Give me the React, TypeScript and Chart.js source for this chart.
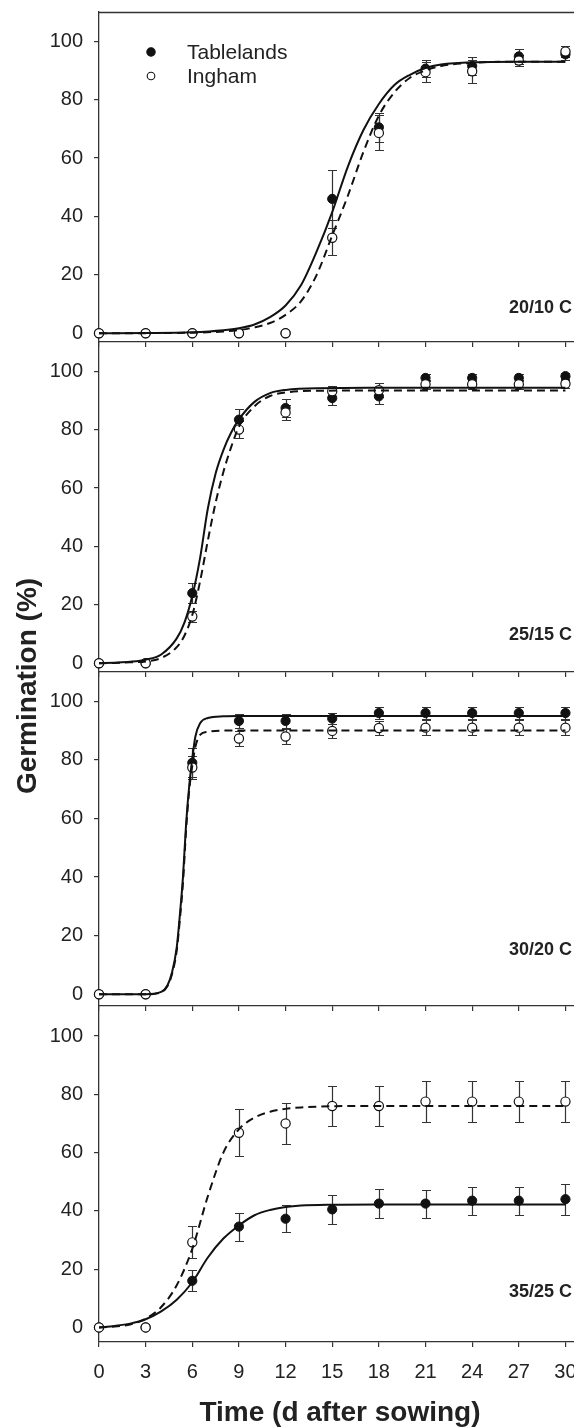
import React, { useEffect, useRef } from "react";
import { Chart, registerables } from "chart.js";

Chart.register(...registerables);

const FONT = "'Liberation Sans', Arial, Helvetica, sans-serif";
const TEXT = "#222222";
const AXIS = "#333333";
const INK = "#111111";

// ---------- data ----------
const days = [0, 3, 6, 9, 12, 15, 18, 21, 24, 27, 30];
const xTickValues = [0, 3, 6, 9, 12, 15, 18, 21, 24, 27, 30];
const yTickValues = [0, 20, 40, 60, 80, 100];
const seriesNames = ["Tablelands", "Ingham"];
const xTitle = "Time (d after sowing)";
const yTitle = "Germination (%)";

// 20/10 C
const p1Label = "20/10 C";
const p1Tablelands = [0, 0, 0, 0, 0, 46, 70.5, 90.6, 91.5, 94.8, 95.5];
const p1TablelandsErr = [0, 0, 0, 0, 0, 10, 5, 3, 3, 2.5, 2];
const p1Ingham = [0, 0, 0, 0, 0, 32.7, 68.6, 89.4, 89.7, 93.4, 96.5];
const p1InghamErr = [0, 0, 0, 0, 0, 6, 6, 3.5, 4, 2, 2];
const p1FitDays = [0, 3, 6, 8, 9, 10, 11, 12, 13, 14, 15, 16, 17, 18, 19, 20, 21, 22, 24, 27, 30];
const p1FitTablelands = [0, 0.05, 0.3, 1, 1.7, 3, 5.5, 9.5, 16.5, 28, 41.5, 57, 69.5, 78.5, 85, 88.5, 90.8, 92, 92.8, 93, 93];
const p1FitIngham = [0, 0.03, 0.2, 0.6, 1.1, 2, 3.5, 6.3, 11, 20, 33.5, 47, 62, 74.5, 82.5, 87.5, 90, 91.5, 92.6, 93, 93];

// 25/15 C
const p2Label = "25/15 C";
const p2Tablelands = [0, 0, 24, 83.4, 87.4, 90.8, 91.4, 97.7, 97.7, 97.7, 98.3];
const p2TablelandsErr = [0, 0, 3.5, 3.8, 3, 2.5, 2.5, 1.2, 1.2, 1.2, 1.2];
const p2Ingham = [0, 0, 16, 80, 85.9, 93.1, 93.5, 95.5, 95.5, 95.5, 95.7];
const p2InghamErr = [0, 0, 2, 3, 2.5, 2, 2.5, 1.5, 1.5, 1.5, 1.5];
const p2FitDays = [0, 1, 2, 3, 4, 5, 5.5, 6, 6.5, 7, 7.5, 8, 8.5, 9, 10, 11, 12, 14, 18, 30];
const p2FitTablelands = [0, 0.2, 0.5, 1.2, 3, 8.5, 14, 23, 36, 53, 65, 73, 79, 83.5, 89.5, 92.5, 93.6, 94.2, 94.3, 94.3];
const p2FitIngham = [0, 0.1, 0.3, 0.6, 1.8, 5.5, 9.5, 16.5, 28, 42, 55, 65.5, 74, 81, 88, 91.5, 92.7, 93.3, 93.4, 93.4];

// 30/20 C
const p3Label = "30/20 C";
const p3Tablelands = [0, 0, 79, 93.3, 93.3, 94.1, 96, 96, 96, 96, 96];
const p3TablelandsErr = [0, 0, 5, 2.3, 2.3, 2, 2, 2, 2, 2, 2];
const p3Ingham = [0, 0, 77.4, 87.3, 88, 89.9, 90.9, 91, 91, 91, 91];
const p3InghamErr = [0, 0, 4, 2.5, 2.5, 2.5, 2.5, 2.5, 2.5, 2.5, 2.5];
const p3FitDays = [0, 3, 4, 4.4, 4.7, 5, 5.2, 5.4, 5.6, 5.8, 6, 6.2, 6.5, 7, 8, 9, 12, 30];
const p3FitTablelands = [0, 0, 0.8, 3, 7.5, 16, 27, 40, 58, 71, 80.5, 88, 92.5, 94.3, 94.9, 95, 95, 95];
const p3FitIngham = [0, 0, 0.7, 2.8, 7, 15, 25.5, 38, 56, 69.5, 78, 84.5, 88.5, 89.6, 90, 90, 90, 90];

// 35/25 C
const p4Label = "35/25 C";
const p4Tablelands = [0, 0, 16, 34.6, 37.3, 40.5, 42.5, 42.5, 43.5, 43.5, 44];
const p4TablelandsErr = [0, 0, 3.6, 4.8, 4.7, 5, 5, 4.8, 4.8, 4.8, 5.3];
const p4Ingham = [0, 0, 29.2, 66.8, 70, 76, 76, 77.5, 77.5, 77.5, 77.5];
const p4InghamErr = [0, 0, 5.5, 8, 7, 6.8, 6.8, 7, 7, 7, 7];
const p4FitDays = [0, 1, 2, 3, 4, 5, 6, 7, 8, 9, 10, 11, 12, 13, 15, 18, 30];
const p4FitTablelands = [0, 0.5, 1.3, 2.8, 5.5, 9.5, 15.5, 24, 30.5, 35, 38.5, 40.3, 41.3, 41.8, 42.1, 42.2, 42.2];
const p4FitIngham = [0, 0.3, 1, 3, 7, 14.5, 27, 45, 60, 68, 72, 74, 75, 75.5, 75.9, 76, 76];

// ---------- layout (page pixels / axis ranges) ----------
const CANVAS_W = 600;
const PLOT_LEFT = 99;
const PLOT_RIGHT = 581;
const PAD_TOP = 10;
const X_MIN = 0;
const X_MAX = 31;

const panels = [
  { label: p1Label, t: p1Tablelands, te: p1TablelandsErr, i: p1Ingham, ie: p1InghamErr, fx: p1FitDays, ft: p1FitTablelands, fi: p1FitIngham,
    top: 12, height: 330, yMin: -3, yMax: 110, labelAt: 8.7, below: 8, first: true, last: false },
  { label: p2Label, t: p2Tablelands, te: p2TablelandsErr, i: p2Ingham, ie: p2InghamErr, fx: p2FitDays, ft: p2FitTablelands, fi: p2FitIngham,
    top: 342, height: 330, yMin: -3, yMax: 110, labelAt: 9.7, below: 8, first: false, last: false },
  { label: p3Label, t: p3Tablelands, te: p3TablelandsErr, i: p3Ingham, ie: p3InghamErr, fx: p3FitDays, ft: p3FitTablelands, fi: p3FitIngham,
    top: 672, height: 334, yMin: -4, yMax: 110, labelAt: 15.2, below: 8, first: false, last: false },
  { label: p4Label, t: p4Tablelands, te: p4TablelandsErr, i: p4Ingham, ie: p4InghamErr, fx: p4FitDays, ft: p4FitTablelands, fi: p4FitIngham,
    top: 1006, height: 336, yMin: -5, yMax: 110.3, labelAt: 12.2, below: 50, first: false, last: true },
];

const toXY = (xs: number[], ys: number[]) => xs.map((x, k) => ({ x, y: ys[k] }));

const errorBarPlugin = {
  id: "errorBars",
  beforeDatasetsDraw(chart: any) {
    const { ctx } = chart;
    const xs = chart.scales.x;
    const ys = chart.scales.y;
    ctx.save();
    ctx.strokeStyle = AXIS;
    ctx.lineWidth = 1.2;
    chart.data.datasets.forEach((ds: any) => {
      const errs = ds.errors;
      if (!errs) return;
      ds.data.forEach((p: any, j: number) => {
        const e = errs[j];
        if (!e) return;
        const px = Math.round(xs.getPixelForValue(p.x)) + 0.5;
        const y1 = Math.round(ys.getPixelForValue(p.y + e)) + 0.5;
        const y2 = Math.round(ys.getPixelForValue(p.y - e)) + 0.5;
        ctx.beginPath();
        ctx.moveTo(px, y1);
        ctx.lineTo(px, y2);
        ctx.moveTo(px - 4.5, y1);
        ctx.lineTo(px + 4.5, y1);
        ctx.moveTo(px - 4.5, y2);
        ctx.lineTo(px + 4.5, y2);
        ctx.stroke();
      });
    });
    ctx.restore();
  },
};

function makeDecorPlugin(panel: any) {
  return {
    id: "decor",
    afterDraw(chart: any) {
      const { ctx, chartArea } = chart;
      const ys = chart.scales.y;
      ctx.save();
      // panel label
      ctx.fillStyle = TEXT;
      ctx.font = `bold 18px ${FONT}`;
      ctx.textAlign = "right";
      ctx.textBaseline = "middle";
      ctx.fillText(panel.label, 572, ys.getPixelForValue(panel.labelAt));
      if (panel.first) {
        // top frame line
        ctx.strokeStyle = AXIS;
        ctx.lineWidth = 1.3;
        ctx.beginPath();
        ctx.moveTo(chartArea.left, chartArea.top + 0.5);
        ctx.lineTo(CANVAS_W, chartArea.top + 0.5);
        ctx.stroke();
        // legend
        const mx = 151;
        const rows = [chartArea.top + 40, chartArea.top + 64];
        ctx.font = `21px ${FONT}`;
        ctx.textAlign = "left";
        ctx.textBaseline = "middle";
        rows.forEach((ry, k) => {
          ctx.beginPath();
          ctx.arc(mx, ry, k === 0 ? 4.2 : 3.8, 0, Math.PI * 2);
          ctx.fillStyle = k === 0 ? INK : "#ffffff";
          ctx.fill();
          ctx.strokeStyle = INK;
          ctx.lineWidth = 1.1;
          ctx.stroke();
          ctx.fillStyle = TEXT;
          ctx.fillText(seriesNames[k], 187, ry + 1);
        });
      }
      ctx.restore();
    },
  };
}

function Panel({ panel }: { panel: any }) {
  const ref = useRef<HTMLCanvasElement | null>(null);
  const H = PAD_TOP + panel.height + panel.below;
  useEffect(() => {
    if (!ref.current) return;
    const chart = new Chart(ref.current, {
      type: "scatter",
      data: {
        datasets: [
          {
            label: seriesNames[0] + " fit",
            data: toXY(panel.fx, panel.ft),
            showLine: true,
            pointRadius: 0,
            borderColor: INK,
            borderWidth: 2,
            cubicInterpolationMode: "monotone",
            order: 0,
            clip: false,
          },
          {
            label: seriesNames[1] + " fit",
            data: toXY(panel.fx, panel.fi),
            showLine: true,
            pointRadius: 0,
            borderColor: INK,
            borderWidth: 2,
            borderDash: [8, 5],
            cubicInterpolationMode: "monotone",
            order: 0,
            clip: false,
          },
          {
            label: seriesNames[1],
            data: toXY(days, panel.i),
            errors: panel.ie,
            showLine: false,
            pointRadius: 4.6,
            pointBackgroundColor: "#ffffff",
            pointBorderColor: INK,
            pointBorderWidth: 1.2,
            order: 1,
            clip: false,
          },
          {
            label: seriesNames[0],
            data: toXY(days, panel.t),
            errors: panel.te,
            showLine: false,
            pointRadius: 4.6,
            pointBackgroundColor: INK,
            pointBorderColor: INK,
            pointBorderWidth: 1,
            order: 2,
            clip: false,
          },
        ] as any,
      },
      options: {
        animation: false,
        responsive: false,
        devicePixelRatio: 1,
        layout: { autoPadding: false, padding: { top: PAD_TOP, left: 0, right: CANVAS_W - PLOT_RIGHT, bottom: 0 } },
        plugins: { legend: { display: false }, tooltip: { enabled: false } },
        events: [],
        scales: {
          x: {
            type: "linear",
            position: "bottom",
            min: X_MIN,
            max: X_MAX,
            afterBuildTicks: (s: any) => {
              s.ticks = xTickValues.map((v) => ({ value: v }));
            },
            afterFit: (s: any) => {
              s.height = panel.below;
              s.paddingLeft = 0;
              s.paddingRight = 0;
              s.paddingTop = 0;
              s.paddingBottom = 0;
            },
            grid: { display: true, drawOnChartArea: false, drawTicks: true, tickLength: 5, color: AXIS, lineWidth: 1.2 },
            border: { display: true, color: AXIS, width: 1.3 },
            ticks: {
              display: panel.last,
              font: { family: FONT, size: 20 },
              color: TEXT,
              padding: 13,
              maxRotation: 0,
              autoSkip: false,
            },
          },
          y: {
            type: "linear",
            position: "left",
            min: panel.yMin,
            max: panel.yMax,
            afterBuildTicks: (s: any) => {
              s.ticks = yTickValues.map((v) => ({ value: v }));
            },
            afterFit: (s: any) => {
              s.width = PLOT_LEFT;
              s.paddingLeft = 0;
              s.paddingRight = 0;
              s.paddingTop = 0;
              s.paddingBottom = 0;
            },
            grid: { display: true, drawOnChartArea: false, drawTicks: true, tickLength: 5, color: AXIS, lineWidth: 1.2 },
            border: { display: true, color: AXIS, width: 1.3 },
            ticks: { font: { family: FONT, size: 20 }, color: TEXT, padding: 11 },
          },
        },
      } as any,
      plugins: [errorBarPlugin, makeDecorPlugin(panel)],
    });
    return () => chart.destroy();
  }, []);
  return (
    <div style={{ position: "absolute", left: 0, top: panel.top - PAD_TOP, width: CANVAS_W, height: H }}>
      <canvas ref={ref} width={CANVAS_W} height={H} style={{ display: "block" }} />
    </div>
  );
}

export default function App() {
  return (
    <div
      style={{
        position: "absolute",
        left: 0,
        top: 0,
        width: 574,
        height: 1427,
        overflow: "hidden",
        background: "#ffffff",
        fontFamily: FONT,
      }}
    >
      {panels.map((p, k) => (
        <Panel key={k} panel={p} />
      ))}
      <div
        style={{
          position: "absolute",
          left: 27 - 150,
          top: 686 - 14,
          width: 300,
          height: 28,
          lineHeight: "28px",
          textAlign: "center",
          fontWeight: "bold",
          fontSize: 28,
          color: TEXT,
          whiteSpace: "nowrap",
          transform: "rotate(-90deg)",
        }}
      >
        {yTitle}
      </div>
      <div
        style={{
          position: "absolute",
          left: 340 - 250,
          top: 1398,
          width: 500,
          height: 30,
          lineHeight: "28px",
          textAlign: "center",
          fontWeight: "bold",
          fontSize: 28,
          color: TEXT,
          whiteSpace: "nowrap",
        }}
      >
        {xTitle}
      </div>
    </div>
  );
}
